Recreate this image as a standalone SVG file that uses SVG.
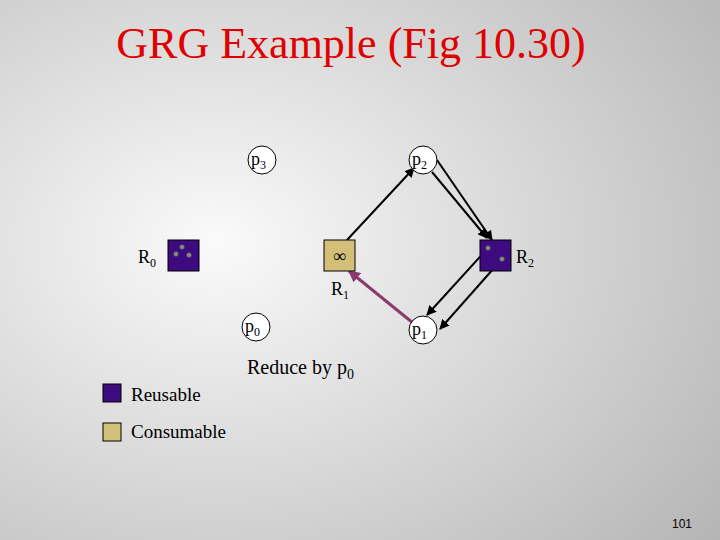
<svg xmlns="http://www.w3.org/2000/svg" width="720" height="540" viewBox="0 0 720 540">
<defs>
<radialGradient id="bg" cx="0.3" cy="0.45" r="0.9"><stop offset="0" stop-color="#fafafa"/><stop offset="1" stop-color="#b4b4b4"/></radialGradient>
<marker id="a" viewBox="0 0 10 10" refX="9" refY="5" markerWidth="5" markerHeight="5" orient="auto"><path d="M0,0L10,5L0,10z" fill="#000"/></marker>
<marker id="ap" viewBox="0 0 10 10" refX="9" refY="5" markerWidth="4" markerHeight="4" orient="auto"><path d="M0,0L10,5L0,10z" fill="#8b3a6e"/></marker>
<style>
.t{font-family:"Liberation Serif",serif;fill:#000}
.p{fill:#fff;stroke:#000;stroke-width:1}
.r{fill:#3d0a80;stroke:#000}
.c{fill:#d4bf78;stroke:#000}
.d{fill:#8a8a8a;stroke:#333;stroke-width:0.5}
.e{stroke:#000;stroke-width:2;fill:none;marker-end:url(#a)}
</style>
</defs>
<rect width="720" height="540" fill="url(#bg)"/>
<text x="351" y="58" text-anchor="middle" class="t" style="fill:#e00000;font-size:44px">GRG Example (Fig 10.30)</text>
<g id="connectors">
<line class="e" x1="347" y1="240" x2="414" y2="168"/>
<line class="e" x1="432" y1="172" x2="487" y2="238"/>
<line class="e" x1="437" y1="160" x2="492" y2="240"/>
<line class="e" x1="488" y1="248" x2="427" y2="315"/>
<line class="e" x1="502" y1="259" x2="440" y2="329"/>
<line x1="413" y1="323" x2="349" y2="271" stroke="#8b3a6e" stroke-width="3" marker-end="url(#ap)"/>
</g>
<g id="p3"><circle class="p" cx="262" cy="160" r="14"/><text class="t" x="251" y="165" font-size="18">p<tspan font-size="12" dy="4">3</tspan></text></g>
<g id="p2"><circle class="p" cx="423" cy="160" r="14"/><text class="t" x="412" y="165" font-size="18">p<tspan font-size="12" dy="4">2</tspan></text></g>
<g id="p0"><circle class="p" cx="256" cy="327" r="14"/><text class="t" x="245" y="332" font-size="18">p<tspan font-size="12" dy="4">0</tspan></text></g>
<g id="p1"><circle class="p" cx="423" cy="330" r="14"/><text class="t" x="412" y="335" font-size="18">p<tspan font-size="12" dy="4">1</tspan></text></g>
<g id="R0"><rect class="r" x="168" y="240" width="31" height="31"/><circle class="d" cx="176" cy="254" r="2.5"/><circle class="d" cx="182" cy="247" r="2.5"/><circle class="d" cx="189" cy="255" r="2.5"/><text class="t" x="138" y="263" font-size="18">R<tspan font-size="12" dy="4">0</tspan></text></g>
<g id="R1"><rect class="c" x="324" y="240" width="31" height="31"/><text class="t" x="339.5" y="262" font-size="18" text-anchor="middle">∞</text><text class="t" x="331" y="295" font-size="18">R<tspan font-size="12" dy="4">1</tspan></text></g>
<g id="R2"><rect class="r" x="480" y="240" width="31" height="31"/><circle class="d" cx="488" cy="248" r="2.5"/><circle class="d" cx="502" cy="259" r="2.5"/><text class="t" x="516" y="263" font-size="18">R<tspan font-size="12" dy="4">2</tspan></text></g>
<text class="t" x="247" y="374" font-size="20">Reduce by p<tspan font-size="14" dy="5">0</tspan></text>
<g id="legend">
<rect class="r" x="103" y="384" width="18" height="18"/><text class="t" x="131" y="401" font-size="19">Reusable</text>
<rect class="c" x="103" y="423" width="18" height="18"/><text class="t" x="131" y="438" font-size="19">Consumable</text>
</g>
<text x="672" y="528" font-family="Liberation Sans,sans-serif" font-size="12">101</text>
</svg>
